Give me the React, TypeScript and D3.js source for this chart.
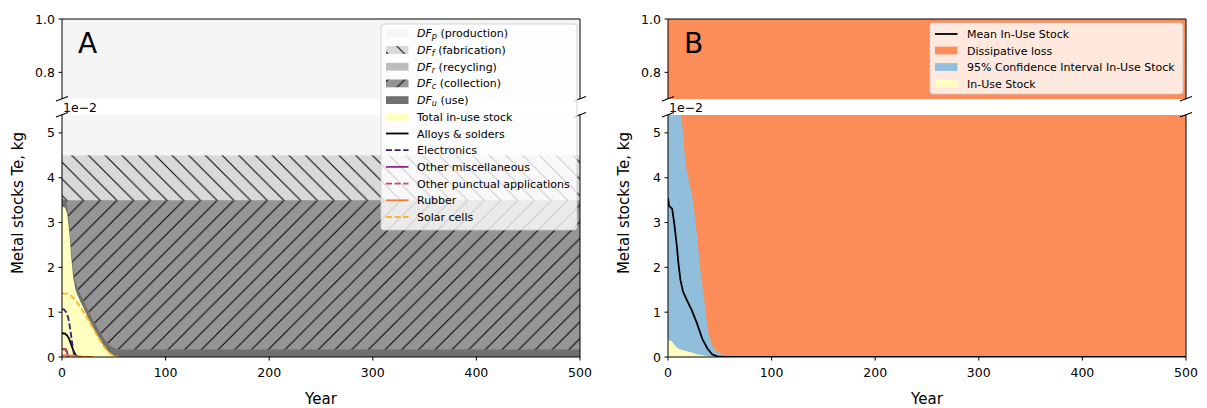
import React from 'react';
import * as d3 from 'd3';

// ---------- DATA (values in units of 1e-2 kg) ----------
const xTicks = [0, 100, 200, 300, 400, 500];
const yTicksTop = [0.8, 1.0];
const yTicksBottom = [0, 1, 2, 3, 4, 5];

// Panel A
const stockYears = [0, 3, 5, 7, 9, 11, 13, 15, 18, 21, 25, 30, 35, 40, 45, 50, 55, 500];
const stockValues = [3.36, 3.33, 3.2, 2.8, 2.2, 1.75, 1.5, 1.38, 1.22, 1.08, 0.88, 0.65, 0.45, 0.26, 0.11, 0.03, 0, 0];
const dfUseBand = 0.17; // DF_u thickness above stock
const dfCollectionTop = 3.5;
const dfFabricationTop = 4.5;
const dfProductionTop = 100; // up to 1.0 kg

const alloysYears = [0, 3, 5, 7, 9, 11, 13, 15, 17];
const alloysValues = [0.53, 0.52, 0.48, 0.4, 0.27, 0.14, 0.05, 0.01, 0];
const electronicsYears = [0, 2, 4, 6, 8, 10, 11.5, 13];
const electronicsValues = [1.07, 1.06, 1.0, 0.88, 0.62, 0.28, 0.06, 0];
const otherMiscYears = [0, 4, 5, 6];
const otherMiscValues = [0.17, 0.17, 0.1, 0];
const otherPunctualYears = [0, 3, 4.5, 5.5];
const otherPunctualValues = [0.18, 0.18, 0.1, 0];
const rubberYears = [0, 10, 20, 30];
const rubberValues = [0.04, 0.03, 0.01, 0];
const solarYears = [0, 5, 8, 11, 14, 17, 20, 25, 30, 35, 40, 45, 50, 55];
const solarValues = [1.42, 1.41, 1.38, 1.32, 1.24, 1.14, 1.03, 0.85, 0.64, 0.44, 0.25, 0.1, 0.02, 0];

const applications = ['Alloys & solders', 'Electronics', 'Other miscellaneous', 'Other punctual applications', 'Rubber', 'Solar cells'];
const appColors = ['#000000', '#3b1d6e', '#8b2a8a', '#c8445e', '#f07a3a', '#fbb41a'];
const appDashed = [false, true, false, true, false, true];
const appYears = [alloysYears, electronicsYears, otherMiscYears, otherPunctualYears, rubberYears, solarYears];
const appValues = [alloysValues, electronicsValues, otherMiscValues, otherPunctualValues, rubberValues, solarValues];

// Panel B
const ciYears = [0, 10, 12.9, 14.4, 15.7, 17.4, 21, 24.5, 27.8, 31, 35, 37, 39.2, 42, 45.7, 50, 53.7, 58, 62, 500];
const ciUpper = [7.5, 6.2, 5.4, 5.0, 4.63, 4.25, 3.85, 3.45, 2.76, 2.01, 1.27, 0.88, 0.52, 0.3, 0.15, 0.08, 0.04, 0.01, 0, 0];
const meanYears = [0, 1, 4, 6, 8.6, 10, 12, 14.5, 18, 23, 28, 33, 38, 42.5, 47.5, 54, 500];
const meanValues = [3.55, 3.37, 3.31, 2.99, 2.46, 2.1, 1.72, 1.46, 1.28, 1.04, 0.75, 0.41, 0.19, 0.06, 0.015, 0, 0];
const useYears = [0, 3, 6, 9, 13, 21, 30, 40, 46, 500];
const useValues = [0.37, 0.36, 0.28, 0.2, 0.16, 0.11, 0.05, 0.015, 0, 0];

// ---------- LAYOUT ----------
const W = 1207, H = 408;
const FONT = 'DejaVu Sans';
const topY0 = 19, topY1 = 99, botY0 = 115, botY1 = 357;
const panels = [
  { x0: 62, x1: 580, key: 'A' },
  { x0: 668, x1: 1186, key: 'B' },
];

const yTop = d3.scaleLinear().domain([0.7, 1.0]).range([topY1, topY0]);
const yBot = d3.scaleLinear().domain([0, 5.4]).range([botY1, botY0]);

const GREY_P = '#f5f5f5', GREY_F = '#d9d9d9', GREY_R = '#bdbdbd', GREY_C = '#959595', GREY_U = '#707070';
const YELLOW = '#ffffbf', BLUE = '#91bfdb', ORANGE = '#fc8d59';
const LW = 1.8;
const DASH = '6,2.6';

function Axes({ x0, x1, label }: { x0: number; x1: number; label: string }) {
  const x = d3.scaleLinear().domain([0, 500]).range([x0, x1]);
  const tl = 3.5;
  return (
    <g fontFamily={FONT} fill="#000">
      <line x1={x0} y1={topY0} x2={x1} y2={topY0} stroke="#000" strokeWidth={1} />
      <line x1={x0} y1={topY0} x2={x0} y2={topY1} stroke="#000" strokeWidth={1} />
      <line x1={x1} y1={topY0} x2={x1} y2={topY1} stroke="#000" strokeWidth={1} />
      <line x1={x0} y1={botY0} x2={x0} y2={botY1} stroke="#000" strokeWidth={1} />
      <line x1={x1} y1={botY0} x2={x1} y2={botY1} stroke="#000" strokeWidth={1} />
      <line x1={x0} y1={botY1} x2={x1} y2={botY1} stroke="#000" strokeWidth={1} />
      {[x0, x1].map((bx, i) => (
        <g key={i}>
          <line x1={bx - 6} y1={topY1 + 2} x2={bx + 6} y2={topY1 - 2.5} stroke="#000" strokeWidth={1.2} />
          <line x1={bx - 6} y1={botY0 + 2} x2={bx + 6} y2={botY0 - 2.5} stroke="#000" strokeWidth={1.2} />
        </g>
      ))}
      {yTicksTop.map((t) => (
        <g key={'yt' + t}>
          <line x1={x0 - tl} x2={x0} y1={yTop(t)} y2={yTop(t)} stroke="#000" />
          <text x={x0 - 7} y={yTop(t) + 4.5} fontSize={12.5} textAnchor="end">{t.toFixed(1)}</text>
        </g>
      ))}
      {yTicksBottom.map((t) => (
        <g key={'yb' + t}>
          <line x1={x0 - tl} x2={x0} y1={yBot(t)} y2={yBot(t)} stroke="#000" />
          <text x={x0 - 7} y={yBot(t) + 4.5} fontSize={12.5} textAnchor="end">{t}</text>
        </g>
      ))}
      {xTicks.map((t) => (
        <g key={'x' + t}>
          <line x1={x(t)} x2={x(t)} y1={botY1} y2={botY1 + tl} stroke="#000" />
          <text x={x(t)} y={376.5} fontSize={12.5} textAnchor="middle">{t}</text>
        </g>
      ))}
      <text x={x0 + 1} y={111.5} fontSize={12.5}>1e−2</text>
      <text x={(x0 + x1) / 2} y={404} fontSize={15} textAnchor="middle">Year</text>
      <text transform={`translate(${x0 - 39},203) rotate(-90)`} fontSize={15} textAnchor="middle">Metal stocks Te, kg</text>
      <text x={x0 + 16} y={53} fontSize={28}>{label}</text>
    </g>
  );
}

function DFLabel({ sub, rest }: { sub: string; rest: string }) {
  return (
    <>
      <tspan fontStyle="italic">DF</tspan>
      <tspan fontStyle="italic" fontSize={8} dy={2}>{sub}</tspan>
      <tspan dy={-2}>{' ' + rest}</tspan>
    </>
  );
}

export default function App() {
  const [pa, pb] = panels;
  const xa = d3.scaleLinear().domain([0, 500]).range([pa.x0, pa.x1]);
  const xb = d3.scaleLinear().domain([0, 500]).range([pb.x0, pb.x1]);

  const stockArea = d3.area<number>().x((_, i) => xa(stockYears[i])).y0(yBot(0)).y1((d) => yBot(d))(stockValues) as string;
  const useArea = d3.area<number>().x((_, i) => xa(stockYears[i])).y0(yBot(0)).y1((d) => yBot(d + dfUseBand))(stockValues) as string;

  const ciArea = d3.area<number>().x((_, i) => xb(ciYears[i])).y0(yBot(0)).y1((d) => yBot(d))(ciUpper) as string;
  const inUseArea = d3.area<number>().x((_, i) => xb(useYears[i])).y0(yBot(0)).y1((d) => yBot(d))(useValues) as string;
  const meanLine = d3.line<number>().x((_, i) => xb(meanYears[i])).y((d) => yBot(d))(meanValues) as string;

  const hs = 16.7;
  const legA = [
    { kind: 'patch', fill: GREY_P, sub: 'p', rest: '(production)' },
    { kind: 'patch', fill: 'url(#hatchBack)', sub: 'f', rest: '(fabrication)' },
    { kind: 'patch', fill: GREY_R, sub: 'r', rest: '(recycling)' },
    { kind: 'patch', fill: 'url(#hatchFwd)', sub: 'c', rest: '(collection)' },
    { kind: 'patch', fill: GREY_U, sub: 'u', rest: '(use)' },
    { kind: 'patch', fill: YELLOW, text: 'Total in-use stock' },
    ...applications.map((a, i) => ({ kind: 'line', color: appColors[i], dashed: appDashed[i], text: a })),
  ];
  const legB = [
    { kind: 'line', color: '#000', dashed: false, text: 'Mean In-Use Stock' },
    { kind: 'patch', fill: ORANGE, text: 'Dissipative loss' },
    { kind: 'patch', fill: BLUE, text: '95% Confidence Interval In-Use Stock' },
    { kind: 'patch', fill: YELLOW, text: 'In-Use Stock' },
  ];

  const renderLegend = (items: any[], bx: number, by: number, bw: number, bh: number, cy0: number, dy: number, hx: number, tx: number) => (
    <g fontFamily={FONT}>
      <rect x={bx} y={by} width={bw} height={bh} rx={3} fill="#fff" fillOpacity={0.8} stroke="#cccccc" strokeOpacity={0.8} />
      {items.map((it, i) => {
        const cy = cy0 + i * dy;
        return (
          <g key={i}>
            {it.kind === 'patch' ? (
              <rect x={hx} y={cy - 3.9} width={22.5} height={7.8} fill={it.fill} />
            ) : (
              <line x1={hx} x2={hx + 22.5} y1={cy} y2={cy} stroke={it.color} strokeWidth={LW}
                strokeDasharray={it.dashed ? DASH : undefined} />
            )}
            <text x={tx} y={cy + 4} fontSize={11} fill="#000">
              {it.sub ? <DFLabel sub={it.sub} rest={it.rest} /> : it.text}
            </text>
          </g>
        );
      })}
    </g>
  );

  return (
    <svg width={W} height={H} style={{ position: 'absolute', left: 0, top: 0, background: '#fff' }}>
      <defs>
        <pattern id="hatchBack" patternUnits="userSpaceOnUse" width={hs} height={hs}>
          <rect width={hs} height={hs} fill={GREY_F} />
          <path d={`M-2,${hs - 2} L2,${hs + 2} M0,0 L${hs},${hs} M${hs - 2},-2 L${hs + 2},2`} stroke="#000" strokeWidth={1} />
        </pattern>
        <pattern id="hatchFwd" patternUnits="userSpaceOnUse" width={hs} height={hs}>
          <rect width={hs} height={hs} fill={GREY_C} />
          <path d={`M-2,2 L2,-2 M0,${hs} L${hs},0 M${hs - 2},${hs + 2} L${hs + 2},${hs - 2}`} stroke="#000" strokeWidth={1} />
        </pattern>
        <clipPath id="clipAbot"><rect x={pa.x0} y={botY0} width={pa.x1 - pa.x0} height={botY1 - botY0} /></clipPath>
        <clipPath id="clipBbot"><rect x={pb.x0} y={botY0} width={pb.x1 - pb.x0} height={botY1 - botY0} /></clipPath>
      </defs>

      {/* Panel A */}
      <rect x={pa.x0} y={topY0} width={pa.x1 - pa.x0} height={topY1 - topY0} fill={GREY_P} />
      <g clipPath="url(#clipAbot)">
        <rect x={pa.x0} y={yBot(dfProductionTop)} width={pa.x1 - pa.x0} height={yBot(dfFabricationTop) - yBot(dfProductionTop)} fill={GREY_P} />
        <rect x={pa.x0} y={yBot(dfFabricationTop)} width={pa.x1 - pa.x0} height={yBot(dfCollectionTop) - yBot(dfFabricationTop)} fill="url(#hatchBack)" />
        <rect x={pa.x0} y={yBot(dfCollectionTop)} width={pa.x1 - pa.x0} height={yBot(0) - yBot(dfCollectionTop)} fill="url(#hatchFwd)" />
        <path d={useArea} fill={GREY_U} />
        <path d={stockArea} fill={YELLOW} />
        {applications.map((a, i) => {
          const ln = d3.line<number>().x((_, j) => xa(appYears[i][j])).y((d) => yBot(d))(appValues[i]) as string;
          return <path key={a} d={ln} fill="none" stroke={appColors[i]} strokeWidth={LW}
            strokeDasharray={appDashed[i] ? DASH : undefined} />;
        })}
      </g>

      {/* Panel B */}
      <rect x={pb.x0} y={topY0} width={pb.x1 - pb.x0} height={topY1 - topY0} fill={ORANGE} />
      <g clipPath="url(#clipBbot)">
        <rect x={pb.x0} y={botY0} width={pb.x1 - pb.x0} height={botY1 - botY0} fill={ORANGE} />
        <path d={ciArea} fill={BLUE} />
        <path d={inUseArea} fill={YELLOW} />
        <path d={meanLine} fill="none" stroke="#000" strokeWidth={LW} />
      </g>

      <Axes x0={pa.x0} x1={pa.x1} label="A" />
      <Axes x0={pb.x0} x1={pb.x1} label="B" />

      {renderLegend(legA, 381, 24, 196, 206, 33.3, 16.7, 386, 417)}
      {renderLegend(legB, 930, 23, 253, 71, 34, 16.5, 935, 967)}
    </svg>
  );
}
